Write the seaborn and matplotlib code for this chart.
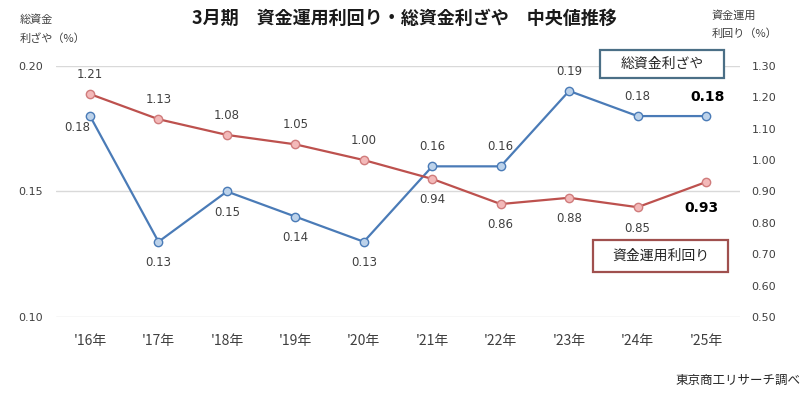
import matplotlib
matplotlib.use("Agg")
import matplotlib.pyplot as plt
import seaborn as sns
import pandas as pd
from matplotlib.patches import Rectangle

# === DATA ===
years = ["'16年", "'17年", "'18年", "'19年", "'20年", "'21年", "'22年", "'23年", "'24年", "'25年"]
margin = [0.18, 0.13, 0.15, 0.14, 0.13, 0.16, 0.16, 0.19, 0.18, 0.18]      # 総資金利ざや (left)
yield_ = [1.21, 1.13, 1.08, 1.05, 1.00, 0.94, 0.86, 0.88, 0.85, 0.93]       # 資金運用利回り (right)
margin_pos = ["left", "below", "below", "below", "below", "above", "above", "above", "above", "bold"]
yield_pos = ["above", "above", "above", "above", "above", "below", "below", "below", "below", "bold"]

left_ticks = [0.10, 0.15, 0.20]
right_ticks = [0.50, 0.60, 0.70, 0.80, 0.90, 1.00, 1.10, 1.20, 1.30]

BLUE = "#4a7bb7"
BLUE_FILL = "#bcd2ea"
RED = "#bd514e"
RED_FILL = "#f3b9b9"
NUM_FONT = ["DejaVu Sans"]

sns.set_style("white")
plt.rcParams["font.family"] = ["Noto Sans CJK JP", "DejaVu Sans"]

df = pd.DataFrame({"x": range(len(years)), "year": years, "margin": margin, "yield": yield_})

W, H = 809, 394
fig = plt.figure(figsize=(W / 100, H / 100), dpi=100)
ax = fig.add_axes([0.069, 0.195, 0.846, 0.638])
ax2 = ax.twinx()

sns.lineplot(data=df, x="x", y="margin", ax=ax, color=BLUE, lw=1.6, marker="o",
             markersize=6, markerfacecolor=BLUE_FILL, markeredgecolor=BLUE, markeredgewidth=1)
sns.lineplot(data=df, x="x", y="yield", ax=ax2, color=RED, lw=1.6, marker="o",
             markersize=6, markerfacecolor=RED_FILL, markeredgecolor="#d07c7c", markeredgewidth=1)

ax.set_xlim(-0.5, len(years) - 0.5)
ax.set_ylim(0.10, 0.20)
ax2.set_ylim(0.50, 1.30)
ax.set_yticks(left_ticks)
ax.set_yticklabels([f"{v:.2f}" for v in left_ticks], family=NUM_FONT)
ax2.set_yticks(right_ticks)
ax2.set_yticklabels([f"{v:.2f}" for v in right_ticks], family=NUM_FONT)
ax.set_xticks(df["x"])
ax.set_xticklabels(years)
ax.set_xlabel("")
ax.set_ylabel("")
ax2.set_ylabel("")
ax.grid(axis="y", color="#d9d9d9", lw=1)
ax.set_axisbelow(True)
for a in (ax, ax2):
    for s in a.spines.values():
        s.set_visible(False)
    a.tick_params(length=0, colors="#404040", labelsize=8)
ax.tick_params(axis="x", pad=12, labelsize=10)
ax.tick_params(axis="y", pad=9)
ax2.tick_params(axis="y", pad=8)

# data labels
def label(a, i, v, p):
    offs = {"left": (-9, -8), "below": (0, -15), "above": (0, 14)}
    if p in offs:
        a.annotate(f"{v:.2f}", (i, v), xytext=offs[p], textcoords="offset points",
                   ha="center", va="center", fontsize=8.5, color="#404040", family=NUM_FONT)

for i, (v, p) in enumerate(zip(margin, margin_pos)):
    label(ax, i, v, p)
    if p == "bold":
        ax.annotate(f"{v:.2f}", (i, v), xytext=(1, 14), textcoords="offset points", ha="center",
                    va="center", fontsize=10, fontweight="bold", color="#000000", family=NUM_FONT)

for i, (v, p) in enumerate(zip(yield_, yield_pos)):
    label(ax2, i, v, p)
    if p == "bold":
        ax2.annotate(f"{v:.2f}", (i, v), xytext=(-3, -19), textcoords="offset points", ha="center",
                     va="center", fontsize=10, fontweight="bold", color="#000000", family=NUM_FONT)

# legend boxes (pixel rectangles)
def box(x0, y0, x1, y1, text, ec):
    fig.add_artist(Rectangle((x0 / W, 1 - y1 / H), (x1 - x0) / W, (y1 - y0) / H,
                             transform=fig.transFigure, fc="white", ec=ec, lw=1.6))
    fig.text((x0 + x1) / 2 / W, 1 - (y0 + y1) / 2 / H, text, ha="center", va="center",
             fontsize=10, color="#262626")

box(600, 50, 724, 78, "総資金利ざや", "#4b6f86")
box(593, 240, 728, 272, "資金運用利回り", "#a0504e")

# titles and axis captions
fig.text(0.5, 1 - 18 / H, "3月期　資金運用利回り・総資金利ざや　中央値推移", ha="center", va="center",
         fontsize=13, fontweight="bold", color="#1a1a1a")
fig.text(20 / W, 1 - 14 / H, "総資金\n利ざや（%）", ha="left", va="top", fontsize=8,
         color="#404040", linespacing=2.0)
fig.text(712 / W, 1 - 10 / H, "資金運用\n利回り（%）", ha="left", va="top", fontsize=8,
         color="#404040", linespacing=1.9)
fig.text(800 / W, 1 - 380 / H, "東京商工リサーチ調べ", ha="right", va="center", fontsize=9,
         color="#262626")

fig.savefig("out.png", dpi=100)
